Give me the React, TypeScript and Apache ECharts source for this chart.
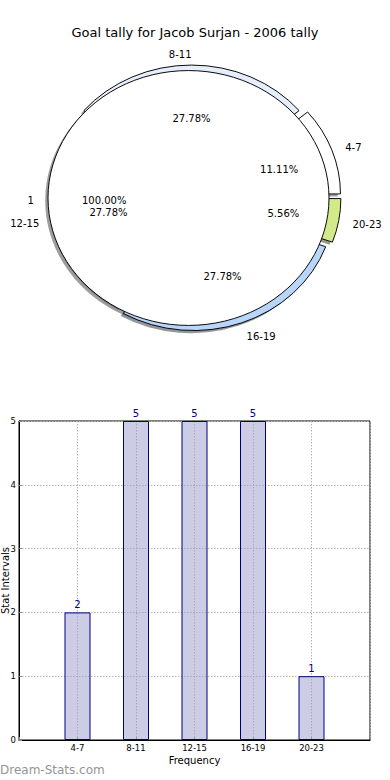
import { useEffect, useRef } from "react";
import * as echarts from "echarts";

// ---------- data ----------
const chartTitle = "Goal tally for Jacob Surjan - 2006 tally";
const categories = ["4-7", "8-11", "12-15", "16-19", "20-23"];
const goals = [2, 5, 5, 5, 1];
const overallLabels = ["1"];
const overallValues = [1];
const xAxisName = "Frequency";
const yAxisName = "Stat Intervals";
const watermark = "Dream-Stats.com";

// ---------- layout / style ----------
const FONT = "DejaVu Sans";
const PIE_CX = 188.5;
const PIE_CY = 198;
const PIE_RX = 140.5;
const PIE_RY = 127.5;
const LABEL_DY = 2;
const SLICE_COLORS = ["#ffffff", "#e6edfb", "#ffffff", "#b8d5fa", "#d3ea8b"];
const SLICE_EXPLODE = [9, 4.5, 0, 6.5, 9];
const RING_SHIFT = [3, -1];
const OVERALL_COLORS = ["#ffffff"];
const OVERALL_EXPLODE = [0];
const OVERALL_SHIFT = [0, 0];
const SHADOW_SHIFT = [-2.8, 2.6];

type Layer = "shadow" | "wedge" | "label";

function shadowColor(hex: string): string {
  const n = parseInt(hex.slice(1), 16);
  const r = Math.round(((n >> 16) & 255) * 0.3);
  const g = Math.round(((n >> 8) & 255) * 0.3);
  const b = Math.round((n & 255) * 0.3);
  return `rgba(${r},${g},${b},0.55)`;
}

function pieRenderer(
  values: number[],
  labels: string[],
  colors: string[],
  explode: number[],
  shift: number[],
  layer: Layer
) {
  const total = values.reduce((a, b) => a + b, 0);
  const starts: number[] = [];
  let acc = 0;
  for (const v of values) {
    starts.push(acc);
    acc += v;
  }
  return (params: any, api: any) => {
    const i = params.dataIndex;
    const v = api.value(0) as number;
    const a1 = (starts[i] / total) * Math.PI * 2;
    const a2 = ((starts[i] + v) / total) * Math.PI * 2;
    const mid = (a1 + a2) / 2;
    const cx = PIE_CX + shift[0] + explode[i] * Math.cos(mid);
    const cy = PIE_CY + shift[1] - explode[i] * Math.sin(mid);
    if (layer === "label") {
      const lx = cx + 1.1 * PIE_RX * Math.cos(mid);
      const ly = cy - 1.1 * PIE_RY * Math.sin(mid) + LABEL_DY;
      const px = cx + 0.6 * PIE_RX * Math.cos(mid);
      const py = cy - 0.6 * PIE_RY * Math.sin(mid) + LABEL_DY;
      return {
        type: "group",
        children: [
          {
            type: "text",
            x: lx,
            y: ly,
            style: {
              text: labels[i],
              fill: "#000",
              fontSize: 10,
              fontFamily: FONT,
              align: Math.cos(mid) > 1e-9 ? "left" : "right",
              verticalAlign: "middle",
            },
          },
          {
            type: "text",
            x: px,
            y: py,
            style: {
              text: ((v / total) * 100).toFixed(2) + "%",
              fill: "#000",
              fontSize: 10,
              fontFamily: FONT,
              align: "center",
              verticalAlign: "middle",
            },
          },
        ],
      };
    }
    const isShadow = layer === "shadow";
    return {
      type: "sector",
      x: cx + (isShadow ? SHADOW_SHIFT[0] : 0),
      y: cy + (isShadow ? SHADOW_SHIFT[1] : 0),
      scaleX: 1,
      scaleY: PIE_RY / PIE_RX,
      shape: { cx: 0, cy: 0, r: PIE_RX, r0: 0, startAngle: -a2, endAngle: -a1, clockwise: true },
      style: isShadow
        ? { fill: shadowColor(colors[i]), stroke: "none" }
        : { fill: colors[i], stroke: "#000", lineWidth: 1 },
    };
  };
}

function pieSeries(
  values: number[],
  labels: string[],
  colors: string[],
  explode: number[],
  shift: number[],
  layer: Layer,
  z: number
) {
  return {
    type: "custom",
    coordinateSystem: "none",
    silent: true,
    z,
    data: values.map((v, i) => ({ name: labels[i], value: [v] })),
    renderItem: pieRenderer(values, labels, colors, explode, shift, layer),
  };
}

export default function App() {
  const ref = useRef<HTMLDivElement>(null);
  useEffect(() => {
    if (!ref.current) return;
    const chart = echarts.init(ref.current, undefined, { renderer: "svg" });
    const gridLine = { color: "#b4b4b4", width: 1, type: [1.5, 1.5] as any };
    chart.setOption({
      animation: false,
      backgroundColor: "#ffffff",
      textStyle: { fontFamily: FONT },
      title: {
        text: chartTitle,
        left: "center",
        top: 21,
        textStyle: { fontSize: 13, fontWeight: "normal", color: "#000", fontFamily: FONT },
      },
      grid: {
        left: 19,
        right: 20,
        top: 421,
        bottom: 40,
        show: true,
        borderColor: "#000",
        borderWidth: 1,
        backgroundColor: "transparent",
        outerBoundsMode: "none",
      },
      xAxis: {
        type: "value",
        min: -1,
        max: 5,
        interval: 1,
        name: xAxisName,
        nameLocation: "middle",
        nameGap: 15,
        nameMoveOverlap: false,
        nameTextStyle: { fontSize: 10, color: "#000", fontFamily: FONT },
        axisLine: { show: true, onZero: false, lineStyle: { color: "#000", width: 1 } },
        axisTick: { show: true, inside: true, length: 3, lineStyle: { color: "#888" } },
        axisLabel: {
          fontSize: 8.5,
          color: "#000",
          margin: 3,
          fontFamily: FONT,
          formatter: (val: number) => categories[val] ?? "",
        },
        splitLine: { show: true, lineStyle: gridLine },
      },
      yAxis: {
        type: "value",
        min: 0,
        max: 5,
        interval: 1,
        name: yAxisName,
        nameLocation: "middle",
        nameGap: 9,
        nameMoveOverlap: false,
        nameTextStyle: { fontSize: 10, color: "#000", fontFamily: FONT },
        axisLine: { show: true, onZero: false, lineStyle: { color: "#000", width: 1 } },
        axisTick: { show: true, inside: true, length: 3, lineStyle: { color: "#888" } },
        axisLabel: { fontSize: 8.5, color: "#000", margin: 3, fontFamily: FONT },
        splitLine: { show: true, lineStyle: gridLine },
      },
      graphic: [
        {
          type: "text",
          left: 0,
          top: 764,
          style: { text: watermark, fill: "#959595", fontSize: 12, fontFamily: FONT },
        },
      ],
      series: [
        pieSeries(goals, categories, SLICE_COLORS, SLICE_EXPLODE, RING_SHIFT, "shadow", 1),
        pieSeries(overallValues, overallLabels, OVERALL_COLORS, OVERALL_EXPLODE, OVERALL_SHIFT, "shadow", 1),
        pieSeries(goals, categories, SLICE_COLORS, SLICE_EXPLODE, RING_SHIFT, "wedge", 2),
        pieSeries(overallValues, overallLabels, OVERALL_COLORS, OVERALL_EXPLODE, OVERALL_SHIFT, "wedge", 3),
        pieSeries(goals, categories, SLICE_COLORS, SLICE_EXPLODE, RING_SHIFT, "label", 4),
        pieSeries(overallValues, overallLabels, OVERALL_COLORS, OVERALL_EXPLODE, OVERALL_SHIFT, "label", 4),
        {
          type: "bar",
          data: goals.map((v, i) => [i, v]),
          barWidth: 26,
          itemStyle: { color: "rgba(153,153,204,0.5)", borderColor: "#000080", borderWidth: 1 },
          label: {
            show: true,
            position: "top",
            distance: 3,
            color: "#000080",
            fontSize: 10,
            fontFamily: FONT,
            formatter: (p: any) => String(p.value[1]),
          },
          z: 2,
        },
      ],
    });
    return () => chart.dispose();
  }, []);
  return (
    <div
      ref={ref}
      style={{ position: "absolute", left: 0, top: 0, width: 390, height: 780 }}
    />
  );
}
